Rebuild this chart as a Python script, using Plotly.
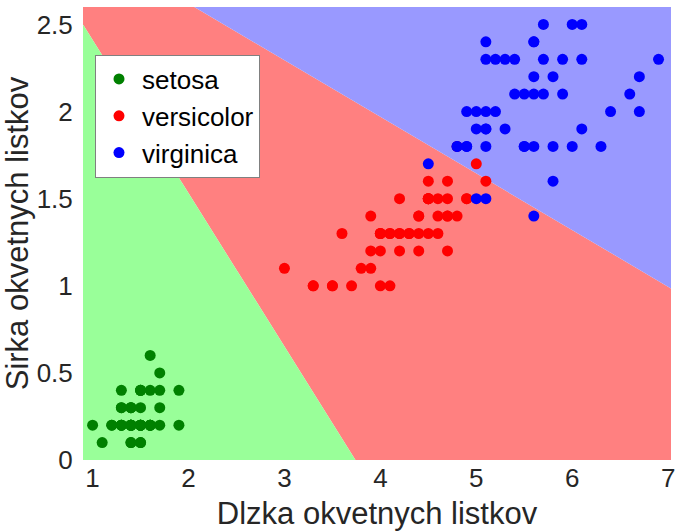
import plotly.graph_objects as go

# Iris petal measurements
setosa_len = [1.4,1.4,1.3,1.5,1.4,1.7,1.4,1.5,1.4,1.5,1.5,1.6,1.4,1.1,1.2,1.5,1.3,1.4,1.7,1.5,
              1.7,1.5,1.0,1.7,1.9,1.6,1.6,1.5,1.4,1.6,1.6,1.5,1.5,1.4,1.5,1.2,1.3,1.4,1.3,1.5,
              1.3,1.3,1.3,1.6,1.9,1.4,1.6,1.4,1.5,1.4]
setosa_wid = [0.2,0.2,0.2,0.2,0.2,0.4,0.3,0.2,0.2,0.1,0.2,0.2,0.1,0.1,0.2,0.4,0.4,0.3,0.3,0.3,
              0.2,0.4,0.2,0.5,0.2,0.2,0.4,0.2,0.2,0.2,0.2,0.4,0.1,0.2,0.2,0.2,0.2,0.1,0.2,0.2,
              0.3,0.3,0.2,0.6,0.4,0.3,0.2,0.2,0.2,0.2]
versi_len = [4.7,4.5,4.9,4.0,4.6,4.5,4.7,3.3,4.6,3.9,3.5,4.2,4.0,4.7,3.6,4.4,4.5,4.1,4.5,3.9,
             4.8,4.0,4.9,4.7,4.3,4.4,4.8,5.0,4.5,3.5,3.8,3.7,3.9,5.1,4.5,4.5,4.7,4.4,4.1,4.0,
             4.4,4.6,4.0,3.3,4.2,4.2,4.2,4.3,3.0,4.1]
versi_wid = [1.4,1.5,1.5,1.3,1.5,1.3,1.6,1.0,1.3,1.4,1.0,1.5,1.0,1.4,1.3,1.4,1.5,1.0,1.5,1.1,
             1.8,1.3,1.5,1.2,1.3,1.4,1.4,1.7,1.5,1.0,1.1,1.0,1.2,1.6,1.5,1.6,1.5,1.3,1.3,1.3,
             1.2,1.4,1.2,1.0,1.3,1.2,1.3,1.3,1.1,1.3]
virg_len = [6.0,5.1,5.9,5.6,5.8,6.6,4.5,6.3,5.8,6.1,5.1,5.3,5.5,5.0,5.1,5.3,5.5,6.7,6.9,5.0,
            5.7,4.9,6.7,4.9,5.7,6.0,4.8,4.9,5.6,5.8,6.1,6.4,5.6,5.1,5.6,6.1,5.6,5.5,4.8,5.4,
            5.6,5.1,5.1,5.9,5.7,5.2,5.0,5.2,5.4,5.1]
virg_wid = [2.5,1.9,2.1,1.8,2.2,2.1,1.7,1.8,1.8,2.5,2.0,1.9,2.1,2.0,2.4,2.3,1.8,2.2,2.3,1.5,
            2.3,2.0,2.0,1.8,2.1,1.8,1.8,1.8,2.1,1.6,1.9,2.0,2.2,1.5,1.4,2.3,2.4,1.8,1.8,2.1,
            2.4,2.3,1.9,2.3,2.5,2.3,1.9,2.0,2.3,1.8]

# Plot limits and decision boundaries (each boundary given by two end points)
x_lim = [0.9, 7.03]
y_lim = [0.0, 2.6]
b1 = [(0.9, 2.5), (3.74, 0.0)]     # setosa | versicolor
b2 = [(2.06, 2.6), (7.03, 0.985)]  # versicolor | virginica

x_ticks = [1, 2, 3, 4, 5, 6, 7]
y_ticks = [0, 0.5, 1, 1.5, 2, 2.5]
names = ["setosa", "versicolor", "virginica"]

FONT = "Liberation Sans"

fig = go.Figure()

# regions
green_poly = [(x_lim[0], y_lim[0]), b1[1], b1[0]]
red_poly = [b1[0], b1[1], (x_lim[1], y_lim[0]), b2[1], b2[0], (x_lim[0], y_lim[1])]
blue_poly = [b2[0], (x_lim[1], y_lim[1]), b2[1]]
for poly, col in [(red_poly, "#FF8080"), (green_poly, "#99FF99"), (blue_poly, "#9999FF")]:
    fig.add_trace(go.Scatter(
        x=[p[0] for p in poly], y=[p[1] for p in poly],
        fill="toself", fillcolor=col, mode="lines",
        line=dict(width=0, color=col), showlegend=False, hoverinfo="skip"))

for xs, ys, name, col in [(setosa_len, setosa_wid, names[0], "#008000"),
                          (versi_len, versi_wid, names[1], "#FF0000"),
                          (virg_len, virg_wid, names[2], "#0000FF")]:
    fig.add_trace(go.Scatter(x=xs, y=ys, mode="markers", name=name,
                             marker=dict(size=11, color=col, line=dict(width=0))))

fig.update_layout(
    width=678, height=531,
    margin=dict(l=83, r=7, t=7, b=71, autoexpand=False),
    paper_bgcolor="white", plot_bgcolor="white",
    font=dict(family=FONT, size=26, color="#262626"),
    showlegend=True,
    legend=dict(x=0.0204, y=0.895, xanchor="left", yanchor="top",
                bgcolor="white", bordercolor="#808080", borderwidth=1,
                font=dict(size=26, color="black"), itemwidth=36),
    xaxis=dict(range=x_lim, tickvals=x_ticks, showgrid=False, zeroline=False,
               showline=False, ticks="", automargin=False,
               title=dict(text="Dlzka okvetnych listkov", standoff=18)),
    yaxis=dict(range=y_lim, tickvals=y_ticks, showgrid=False, zeroline=False,
               showline=False, ticks="outside", ticklen=4, tickcolor="rgba(0,0,0,0)",
               automargin=False,
               title=dict(text="Sirka okvetnych listkov", standoff=6)),
)

fig.write_html("out.html")
